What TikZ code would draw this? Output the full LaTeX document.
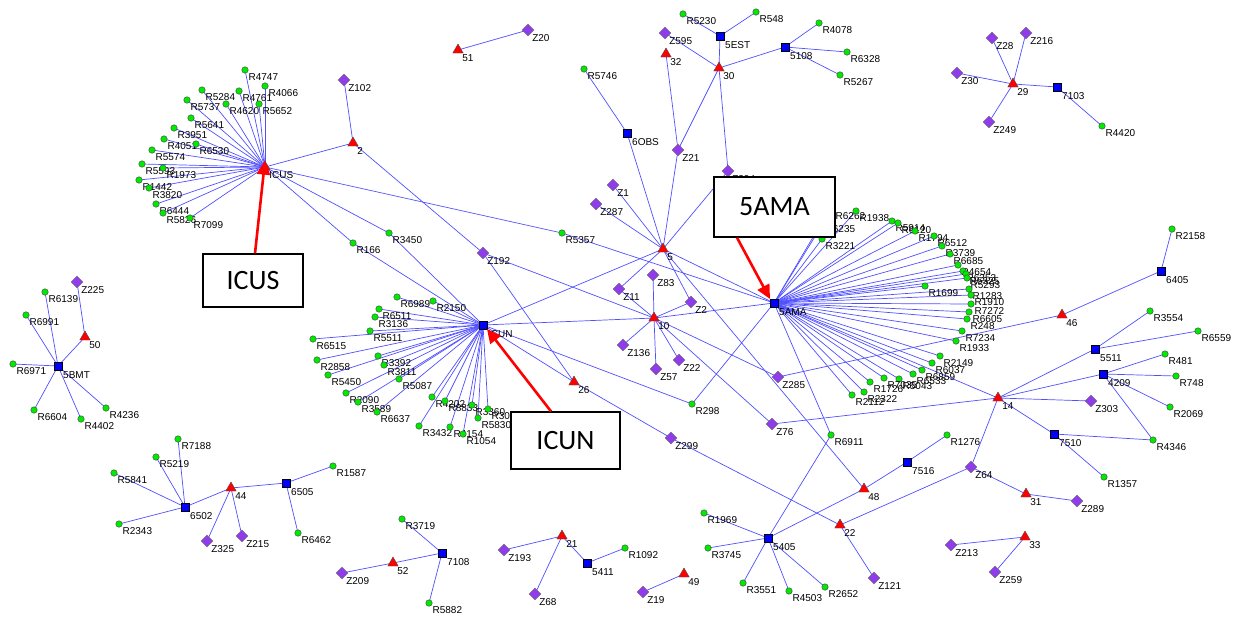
\documentclass[tikz,border=0pt]{standalone}
\usepackage{fontspec}
\usetikzlibrary{shapes.geometric,arrows.meta}
\newfontfamily\lbfam{Liberation Sans}
\newfontfamily\calibfam{Carlito}
\newcommand{\lbfont}{\lbfam\fontsize{10}{11}\selectfont}
\newcommand{\bigfont}{\calibfam\fontsize{28}{30}\selectfont}
\pgfdeclarelayer{bg}
\pgfsetlayers{bg,main}
\tikzset{
 ed/.style={draw={rgb,255:red,80;green,80;blue,255}, line width=0.7pt},
 rd/.style={circle, fill={rgb,255:red,0;green,235;blue,0}, draw=black!75, line width=0.4pt, inner sep=0pt, minimum size=6.5pt},
 bs/.style={rectangle, fill={rgb,255:red,0;green,0;blue,255}, draw=black, line width=0.5pt, inner sep=0pt, minimum size=7.5pt},
 rt/.style={regular polygon, regular polygon sides=3, fill=red, draw=black!70, line width=0.4pt, inner sep=0pt, minimum size=12pt},
 pd/.style={diamond, fill={rgb,255:red,145;green,60;blue,235}, draw=black!60, line width=0.4pt, inner sep=0pt, minimum size=12pt},
 lb/.style={font=\lbfont, inner sep=0.3pt, label distance=1pt, text=black},
 callout/.style={draw=black, line width=1.3pt, fill=white, font=\bigfont, inner sep=0pt},
 redarrow/.style={draw=red, line width=2.6pt, -{Triangle[length=14pt,width=13pt]}},
}
\newcommand{\nd}[5]{\node[#1, label={[lb]-45:#5}] (n#2) at (#3,#4) {};}
\newcommand{\ND}[4]{\nd{#1}{#2}{#3}{#4}{#2}}
\begin{document}
\begin{tikzpicture}[x=1pt,y=-1pt]
\useasboundingbox (0,0) rectangle (1246,621);
% ---------------- ICUS cluster
\ND{rt}{ICUS}{265}{167}
\ND{rd}{R4747}{245}{70}
\ND{rd}{R4066}{265}{86}
\ND{rd}{R5284}{202}{90}
\ND{rd}{R4761}{239}{91}
\ND{rd}{R5737}{187}{100}
\ND{rd}{R4620}{226}{104}
\ND{rd}{R5652}{259}{104}
\ND{rd}{R5641}{191}{118}
\ND{rd}{R3951}{174}{128}
\ND{rd}{R4051}{164}{139}
\ND{rd}{R6530}{196}{144}
\ND{rd}{R5574}{152}{150}
\ND{rd}{R5593}{142}{164}
\ND{rd}{R1973}{163}{168}
\ND{rd}{R1442}{139}{180}
\ND{rd}{R3820}{149}{188}
\ND{rd}{R6444}{156}{204}
\ND{rd}{R5826}{163}{213}
\ND{rd}{R7099}{190}{218}
% ---------------- top middle
\nd{rt}{2}{353}{143}{2}
\ND{pd}{Z102}{344}{80}
\nd{rt}{51}{458}{50}{51}
\ND{pd}{Z20}{528}{30}
\ND{rd}{R166}{353}{243}
\ND{rd}{R3450}{389}{233}
\ND{pd}{Z192}{483}{253}
\ND{rd}{R5357}{562}{233}
\ND{rd}{R5746}{584}{69}
\ND{bs}{6OBS}{627}{133}
\ND{pd}{Z1}{613}{185}
\ND{pd}{Z287}{596}{204}
\ND{rd}{R5230}{683}{14}
\ND{rd}{R548}{756}{12}
\ND{bs}{5EST}{720}{36}
\ND{pd}{Z595}{665}{33}
\nd{rt}{32}{666}{54}{32}
\nd{rt}{30}{719}{68}{30}
\ND{bs}{5108}{785}{47}
\ND{rd}{R4078}{819}{23}
\ND{rd}{R6328}{847}{52}
\ND{rd}{R5267}{840}{75}
\ND{pd}{Z21}{678}{150}
\ND{pd}{Z394}{728}{171}
\nd{rt}{5}{663}{249}{5}
\ND{pd}{Z11}{619}{289}
\ND{pd}{Z83}{653}{275}
\ND{pd}{Z2}{691}{302}
\nd{rt}{10}{654}{318}{10}
\ND{pd}{Z136}{623}{345}
\ND{pd}{Z57}{656}{369}
\ND{pd}{Z22}{679}{360}
\ND{pd}{Z285}{778}{377}
\ND{rd}{R298}{692}{404}
\ND{bs}{5AMA}{774}{303}
\nd{rt}{26}{574}{382}{26}
\ND{pd}{Z299}{671}{438}
\ND{pd}{Z76}{772}{424}
\ND{rd}{R6911}{831}{435}
% ---------------- lower right
\nd{rt}{48}{864}{489}{48}
\ND{bs}{7516}{907}{462}
\ND{rd}{R1276}{947}{435}
\nd{rt}{22}{840}{525}{22}
\ND{pd}{Z121}{874}{578}
\ND{pd}{Z64}{971}{467}
\nd{rt}{31}{1026}{494}{31}
\ND{pd}{Z289}{1077}{501}
\ND{pd}{Z213}{951}{545}
\ND{pd}{Z259}{995}{572}
\nd{rt}{33}{1025}{537}{33}
\ND{bs}{7510}{1054}{434}
\ND{rd}{R4346}{1153}{440}
\ND{rd}{R1357}{1104}{477}
\nd{rt}{14}{998}{398}{14}
\ND{bs}{5511}{1095}{349}
\ND{bs}{4209}{1103}{374}
\ND{pd}{Z303}{1091}{401}
\ND{rd}{R3554}{1150}{311}
\ND{rd}{R6559}{1198}{331}
\ND{rd}{R481}{1165}{354}
\ND{rd}{R748}{1176}{376}
\ND{rd}{R2069}{1170}{407}
\nd{rt}{46}{1062}{315}{46}
\ND{bs}{6405}{1161}{271}
\ND{rd}{R2158}{1172}{229}
% ---------------- top right
\ND{pd}{Z28}{992}{38}
\ND{pd}{Z216}{1026}{33}
\ND{pd}{Z30}{957}{73}
\nd{rt}{29}{1013}{84}{29}
\ND{bs}{7103}{1057}{87}
\ND{rd}{R4420}{1102}{126}
\ND{pd}{Z249}{989}{122}
% ---------------- 5BMT cluster
\ND{bs}{5BMT}{58}{366}
\ND{rd}{R6139}{45}{292}
\ND{rd}{R6991}{26}{315}
\ND{rd}{R6971}{13}{364}
\ND{pd}{Z225}{77}{282}
\nd{rt}{50}{85}{337}{50}
\ND{rd}{R6604}{34}{410}
\ND{rd}{R4402}{81}{419}
\ND{rd}{R4236}{106}{408}
% ---------------- 6502 cluster
\ND{bs}{6502}{185}{507}
\ND{rd}{R7188}{178}{439}
\ND{rd}{R5219}{156}{457}
\ND{rd}{R5841}{114}{473}
\ND{rd}{R2343}{119}{524}
\nd{rt}{44}{231}{488}{44}
\ND{pd}{Z325}{207}{541}
\ND{pd}{Z215}{242}{536}
\ND{bs}{6505}{286}{483}
\ND{rd}{R6462}{298}{533}
\ND{rd}{R1587}{333}{466}
% ---------------- 7108 cluster
\ND{bs}{7108}{442}{553}
\ND{rd}{R3719}{402}{519}
\nd{rt}{52}{393}{563}{52}
\ND{pd}{Z209}{342}{573}
\ND{rd}{R5882}{429}{603}
% ---------------- 21 cluster
\nd{rt}{21}{562}{536}{21}
\ND{pd}{Z193}{504}{550}
\ND{pd}{Z68}{535}{594}
\ND{bs}{5411}{587}{563}
\ND{rd}{R1092}{625}{548}
\nd{rt}{49}{684}{574}{49}
\ND{pd}{Z19}{643}{592}
% ---------------- 5405 cluster
\ND{bs}{5405}{768}{538}
\ND{rd}{R1969}{704}{513}
\ND{rd}{R3745}{708}{548}
\ND{rd}{R3551}{743}{583}
\ND{rd}{R4503}{789}{591}
\ND{rd}{R2652}{825}{587}
% ---------------- ICUN cluster
\ND{bs}{ICUN}{483}{325}
\ND{rd}{R6989}{397}{297}
\ND{rd}{R2150}{433}{301}
\ND{rd}{R6511}{379}{309}
\ND{rd}{R3136}{375}{317}
\ND{rd}{R5511}{370}{331}
\ND{rd}{R6515}{313}{339}
\ND{rd}{R2858}{317}{360}
\ND{rd}{R3392}{378}{356}
\ND{rd}{R3811}{384}{365}
\ND{rd}{R5450}{328}{375}
\ND{rd}{R5087}{399}{379}
\ND{rd}{R2090}{346}{393}
\ND{rd}{R3589}{358}{402}
\ND{rd}{R6637}{377}{412}
\ND{rd}{R3432}{419}{426}
\ND{rd}{R4154}{450}{427}
\ND{rd}{R1054}{463}{434}
\ND{rd}{R5830}{478}{418}
\ND{rd}{R4202}{432}{397}
\ND{rd}{R8833}{445}{401}
\ND{rd}{R3360}{472}{405}
\ND{rd}{R3070}{488}{409}
% ---------------- 5AMA cluster
\ND{rd}{R6262}{832}{209}
\ND{rd}{R6235}{822}{222}
\ND{rd}{R3221}{822}{239}
\ND{rd}{R1938}{856}{211}
\ND{rd}{R5914}{892}{221}
\ND{rd}{R6120}{898}{223}
\ND{rd}{R1794}{915}{231}
\ND{rd}{R6512}{934}{236}
\ND{rd}{R3739}{942}{246}
\ND{rd}{R6685}{950}{254}
\ND{rd}{R4654}{958}{265}
\ND{rd}{R6353}{963}{271}
\ND{rd}{R6325}{966}{274}
\ND{rd}{R5293}{967}{278}
\ND{rd}{R1283}{969}{289}
\ND{rd}{R1699}{925}{286}
\ND{rd}{R1910}{971}{295}
\ND{rd}{R7272}{971}{304}
\ND{rd}{R6605}{969}{312}
\ND{rd}{R248}{967}{319}
\ND{rd}{R7234}{962}{331}
\ND{rd}{R1933}{956}{341}
\ND{rd}{R2149}{940}{356}
\ND{rd}{R6037}{932}{363}
\ND{rd}{R6859}{922}{370}
\ND{rd}{R6533}{913}{374}
\ND{rd}{R5043}{899}{379}
\ND{rd}{R7035}{884}{378}
\ND{rd}{R1726}{870}{382}
\ND{rd}{R2322}{864}{392}
\ND{rd}{R2112}{852}{395}
% ---------------- edges
\begin{pgfonlayer}{bg}
\fill[white] (0,0) rectangle (1246,621);
\foreach \b in {R4747,R4066,R5284,R4761,R5737,R4620,R5652,R5641,R3951,R4051,R6530,R5574,R5593,R1973,R1442,R3820,R6444,R5826,R7099}
  \draw[ed] (nICUS.center) -- (n\b.center);
\foreach \b in {R6989,R2150,R6511,R3136,R5511,R6515,R2858,R3392,R3811,R5450,R5087,R2090,R3589,R6637,R3432,R4154,R1054,R5830,R4202,R8833,R3360,R3070}
  \draw[ed] (nICUN.center) -- (n\b.center);
\foreach \b in {R6262,R6235,R3221,R1938,R5914,R6120,R1794,R6512,R3739,R6685,R4654,R6353,R6325,R5293,R1283,R1699,R1910,R7272,R6605,R248,R7234,R1933,R2149,R6037,R6859,R6533,R5043,R7035,R1726,R2322,R2112}
  \draw[ed] (n5AMA.center) -- (n\b.center);
\foreach \a/\b in {ICUS/2, 2/Z102, 2/Z192, Z192/26, Z192/10, ICUS/R5357, R5357/5AMA,
  ICUS/R166, R166/ICUN, ICUS/R3450, R3450/ICUN, 51/Z20, R5746/6OBS, 6OBS/5, Z1/5, Z287/5,
  5EST/R5230, 5EST/R548, 5EST/30, Z595/30, 30/5108, 5108/R4078, 5108/R6328, 5108/R5267,
  32/Z21, 30/Z21, Z21/5, 30/Z394, Z394/5, 5/ICUN, 5/5AMA, 5/Z11, 5/Z2, 5/48,
  Z11/10, Z83/10, Z2/10, 10/Z136, 10/Z57, 10/Z22, 10/Z285, 10/Z76, ICUN/10, 10/5AMA,
  ICUN/R298, 5AMA/R298, ICUN/26, 26/Z299, Z299/22, 22/Z121, 22/Z64, Z64/14, Z64/31, 31/Z289,
  33/Z213, 33/Z259, 48/5405, 48/7516, 7516/R1276, 5AMA/R6911, R6911/5405,
  5405/R1969, 5405/R3745, 5405/R3551, 5405/R4503, 5405/R2652,
  Z285/46, 46/6405, 6405/R2158, Z76/14, 5AMA/14, 14/5511, 14/4209, 14/Z303, 14/7510,
  7510/R4346, 7510/R1357, 4209/R4346, 4209/R481, 4209/R748, 4209/R2069, 5511/R3554, 5511/R6559,
  29/Z28, 29/Z216, 29/Z30, 29/Z249, 29/7103, 7103/R4420,
  5BMT/R6139, 5BMT/R6991, 5BMT/R6971, 5BMT/50, 5BMT/R6604, 5BMT/R4402, 5BMT/R4236, 50/Z225,
  6502/R7188, 6502/R5219, 6502/R5841, 6502/R2343, 6502/44, 44/Z325, 44/Z215, 44/6505,
  6505/R6462, 6505/R1587, 7108/R3719, 7108/52, 7108/R5882, 52/Z209,
  21/Z193, 21/Z68, 21/5411, 5411/R1092, 49/Z19}
  \draw[ed] (n\a.center) -- (n\b.center);
\end{pgfonlayer}
% ---------------- callouts
\node[callout, minimum width=100pt, minimum height=53pt] (bICUS) at (253,280.5) {ICUS};
\node[callout, minimum width=109pt, minimum height=57pt] (bICUN) at (565.5,440.5) {ICUN};
\node[callout, minimum width=121pt, minimum height=60pt] (b5AMA) at (774.5,207) {5AMA};
\draw[redarrow] ([xshift=2pt]bICUS.north) -- (nICUS.north);
\draw[redarrow] ([xshift=-14.5pt]bICUN.north) -- (nICUN.south east);
\draw[redarrow] ([xshift=-37.5pt]b5AMA.south) -- (n5AMA.north west);
\end{tikzpicture}
\end{document}
